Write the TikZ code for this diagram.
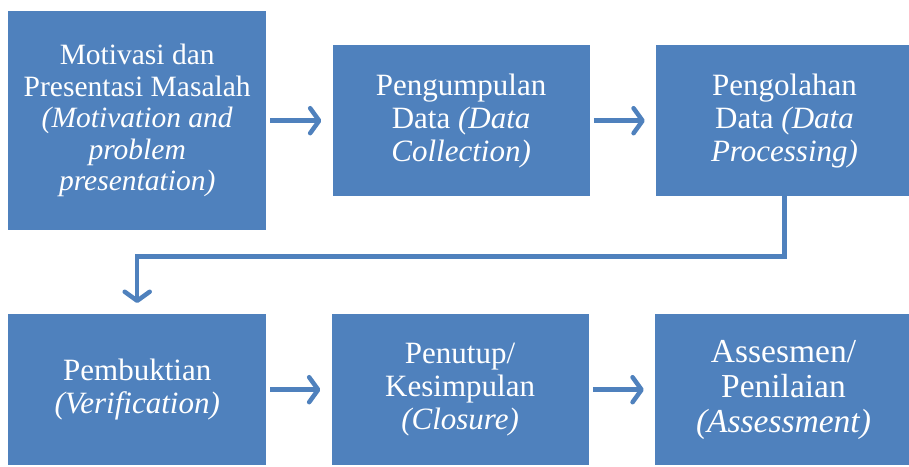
\documentclass[tikz,border=0pt]{standalone}
\usepackage{fontspec}
\setmainfont{Liberation Serif}
\usetikzlibrary{arrows.meta,positioning}
\definecolor{stageblue}{RGB}{79,129,189}

\begin{document}
\begin{tikzpicture}[x=1pt,y=-1pt,node distance=66pt,
  every node/.style={text=white,align=center,font=\fontsize{31}{33}\selectfont},
  stage/.style={fill=stageblue,inner sep=0pt,minimum width=257pt,minimum height=151pt},
  flow/.style={draw=stageblue,line width=4.5pt,
    -{Straight Barb[length=9pt,width=25pt,round]},
    shorten <=4pt,shorten >=11pt}]
  \useasboundingbox (0,0) rectangle (909,466);
  % top row
  \node[stage,minimum width=258pt,minimum height=219pt,anchor=north west,
        font=\fontsize{29.5}{31.5}\selectfont] (motiv) at (8,11)
    {Motivasi dan\\Presentasi Masalah\\\textit{(Motivation and}\\
     \textit{problem}\\\textit{presentation)}};
  \node[stage,right=of motiv] (collect)
    {Pengumpulan\\Data \textit{(Data}\\\textit{Collection)}};
  \node[stage,right=of collect] (process)
    {Pengolahan\\Data \textit{(Data}\\\textit{Processing)}};
  % bottom row
  \node[stage,minimum width=258pt,anchor=north west] (verif) at (8,314)
    {Pembuktian\\\textit{(Verification)}};
  \node[stage,right=65pt of verif] (closure)
    {Penutup/\\Kesimpulan\\\textit{(Closure)}};
  \node[stage,right=of closure,font=\fontsize{33.5}{35}\selectfont] (assess)
    {Assesmen/\\Penilaian\\\textit{(Assessment)}};
  \draw[flow] (motiv) -- (collect);
  \draw[flow] (collect) -- (process);
  \draw[flow,shorten <=0pt] (process.south) -- ++(0,60) -| (verif.north);
  \draw[flow] (verif) -- (closure);
  \draw[flow] (closure) -- (assess);
\end{tikzpicture}
\end{document}
